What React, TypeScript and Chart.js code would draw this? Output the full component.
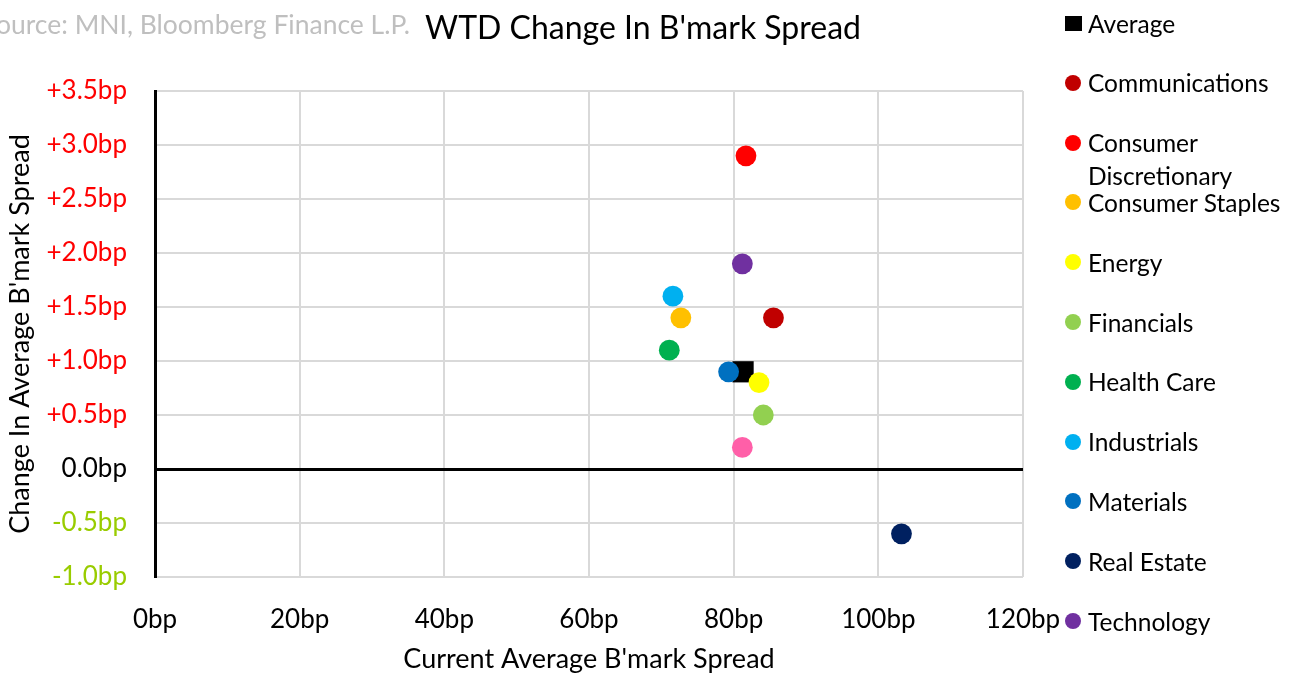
import React, { useEffect, useRef } from 'react';
import { Chart, registerables } from 'chart.js';

Chart.register(...registerables);

const sectors = [
  'Average',
  'Communications',
  'Consumer Discretionary',
  'Consumer Staples',
  'Energy',
  'Financials',
  'Health Care',
  'Industrials',
  'Materials',
  'Real Estate',
  'Technology',
  'Utilities',
];
const currentSpread = [81.3, 85.5, 81.7, 72.7, 83.5, 84.1, 71.1, 71.6, 79.3, 103.2, 81.2, 81.2];
const wtdChange = [0.9, 1.4, 2.9, 1.4, 0.8, 0.5, 1.1, 1.6, 0.9, -0.6, 1.9, 0.2];
const sectorColors = [
  '#000000',
  '#C00000',
  '#FF0000',
  '#FFC000',
  '#FFFF00',
  '#92D050',
  '#00B050',
  '#00B0F0',
  '#0070C0',
  '#002060',
  '#7030A0',
  '#FF5FA8',
];
const legendVisibleCount = 11;

const titleText = "WTD Change In B'mark Spread";
const sourceText = 'Source: MNI, Bloomberg Finance L.P.';
const xAxisTitle = "Current Average B'mark Spread";
const yAxisTitle = "Change In Average B'mark Spread";

const FONT = 'Lato, "Open Sans", sans-serif';

function fmtY(v: number): string {
  if (v > 0) return '+' + v.toFixed(1) + 'bp';
  return v.toFixed(1) + 'bp';
}

export default function App() {
  const ref = useRef<HTMLCanvasElement | null>(null);

  useEffect(() => {
    if (!ref.current) return;
    const datasets = sectors.map((name, i) => ({
      label: name,
      data: [{ x: currentSpread[i], y: wtdChange[i] }],
      backgroundColor: sectorColors[i],
      borderColor: sectorColors[i],
      borderWidth: 0,
      pointStyle: i === 0 ? 'rect' : 'circle',
      pointRadius: i === 0 ? 15 : 10.4,
      pointHoverRadius: i === 0 ? 15 : 10.4,
      order: i === 0 ? 1 : 0,
    }));
    const chart = new Chart(ref.current, {
      type: 'scatter',
      data: { datasets: datasets as any },
      options: {
        animation: false,
        responsive: false,
        devicePixelRatio: 1,
        layout: { padding: { top: 91, right: 272, left: 0, bottom: 0 } },
        plugins: {
          legend: { display: false },
          title: { display: false },
          tooltip: { enabled: false },
        },
        scales: {
          x: {
            type: 'linear',
            min: 0,
            max: 120,
            ticks: {
              stepSize: 20,
              padding: 27,
              color: '#000000',
              font: { family: FONT, size: 26 },
              callback: (v: any) => Number(v).toFixed(0) + 'bp',
            },
            grid: { color: '#D9D9D9', lineWidth: 2, drawTicks: false },
            border: { display: false },
            title: {
              display: true,
              text: xAxisTitle,
              color: '#000000',
              font: { family: FONT, size: 27 },
              padding: { top: 0, bottom: 0 },
            },
            afterFit: (scale: any) => {
              scale.height = 98;
            },
          },
          y: {
            type: 'linear',
            min: -1,
            max: 3.5,
            ticks: {
              stepSize: 0.5,
              padding: 28,
              font: { family: FONT, size: 26 },
              color: (ctx: any) => {
                const v = ctx.tick.value;
                if (v > 0) return '#FF0000';
                if (v < 0) return '#99CC00';
                return '#000000';
              },
              callback: (v: any) => fmtY(Number(v)),
            },
            grid: {
              drawTicks: false,
              color: (ctx: any) => (ctx.tick && ctx.tick.value === 0 ? '#000000' : '#D9D9D9'),
              lineWidth: (ctx: any) => (ctx.tick && ctx.tick.value === 0 ? 3 : 2),
            },
            border: { display: true, color: '#000000', width: 3 },
            title: {
              display: true,
              text: yAxisTitle,
              color: '#000000',
              font: { family: FONT, size: 27 },
              padding: { top: 4, bottom: 0 },
            },
            afterFit: (scale: any) => {
              scale.width = 155;
            },
          },
        },
      },
    } as any);
    return () => chart.destroy();
  }, []);

  const legendItems = sectors.slice(0, legendVisibleCount);

  return (
    <div
      style={{
        position: 'absolute',
        left: 0,
        top: 0,
        width: 1295,
        height: 675,
        overflow: 'hidden',
        background: '#ffffff',
        fontFamily: FONT,
      }}
    >
      <canvas ref={ref} width={1295} height={675} style={{ position: 'absolute', left: 0, top: 0 }} />
      <div
        style={{
          position: 'absolute',
          right: 885,
          top: 8,
          whiteSpace: 'nowrap',
          color: '#BFBFBF',
          fontSize: 26.5,
          lineHeight: '32px',
        }}
      >
        {sourceText}
      </div>
      <div
        style={{
          position: 'absolute',
          left: 425,
          top: 7,
          whiteSpace: 'nowrap',
          color: '#000000',
          fontSize: 32,
          lineHeight: '40px',
        }}
      >
        {titleText}
      </div>
      {legendItems.map((name, i) => {
        const centerY = 23 + i * 59.8;
        return (
          <div
            key={name}
            style={{
              position: 'absolute',
              left: 1063,
              top: centerY - 16.5,
              display: 'flex',
              alignItems: 'flex-start',
            }}
          >
            <div
              style={{
                width: 20,
                height: 33,
                display: 'flex',
                alignItems: 'center',
                justifyContent: 'center',
                flex: '0 0 20px',
              }}
            >
              <div
                style={{
                  width: i === 0 ? 17 : 16,
                  height: i === 0 ? 15 : 16,
                  borderRadius: i === 0 ? 0 : '50%',
                  background: sectorColors[i],
                }}
              />
            </div>
            <div
              style={{
                marginLeft: 5,
                fontSize: 24.5,
                lineHeight: '33px',
                color: '#000000',
                width: 205,
                whiteSpace: 'normal',
              }}
            >
              {name}
            </div>
          </div>
        );
      })}
    </div>
  );
}
